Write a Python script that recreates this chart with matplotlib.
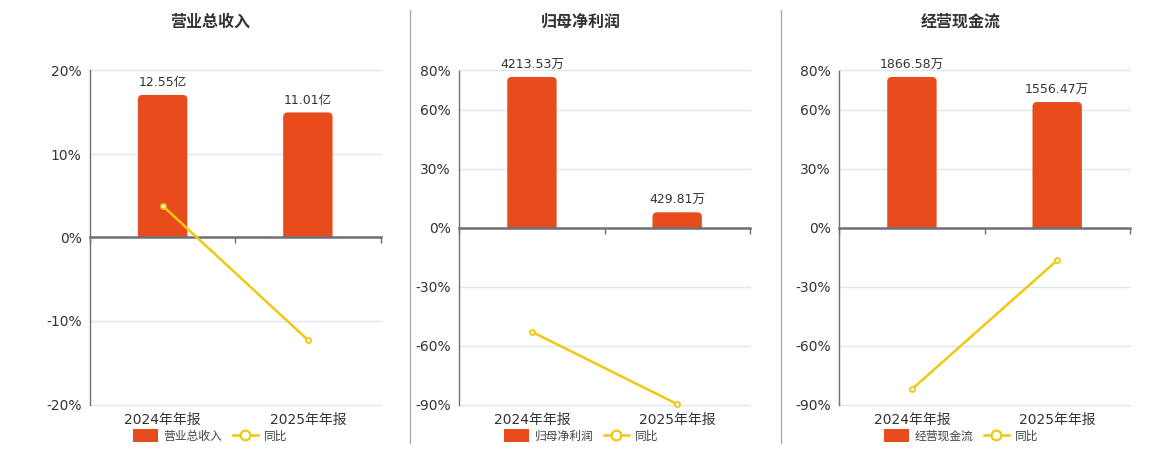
import matplotlib
matplotlib.use("Agg")
import matplotlib.pyplot as plt
from matplotlib.lines import Line2D
from matplotlib.patches import Patch, FancyBboxPatch, Rectangle
from matplotlib.transforms import blended_transform_factory

plt.rcParams['font.family'] = ['DejaVu Sans', 'Noto Sans CJK SC']

categories = ['2024年年报', '2025年年报']

titles = ['营业总收入', '归母净利润', '经营现金流']
bar_values = [[12.55, 11.01], [4213.53, 429.81], [1866.58, 1556.47]]
bar_labels = [['12.55亿', '11.01亿'], ['4213.53万', '429.81万'], ['1866.58万', '1556.47万']]
yoy_values = [[3.8, -12.27], [-53.0, -89.8], [-82.2, -16.6]]
pct_limits = [(-20, 20), (-90, 80), (-90, 80)]
pct_ticks = [[-20, -10, 0, 10, 20], [-90, -60, -30, 0, 30, 60, 80], [-90, -60, -30, 0, 30, 60, 80]]
bar_axis_top = [14.70, 4395.0, 1947.0]

BAR_COLOR = '#E84C1D'
LINE_COLOR = '#F2C80F'
AXIS_COLOR = '#6E7079'
GRID_COLOR = '#E0E6F1'
TEXT_COLOR = '#333333'

W, H = 1160, 450
fig = plt.figure(figsize=(11.6, 4.5), dpi=100)

panel_lefts = [90, 459.3, 839.3]
panel_width = 290.5
panel_top, panel_bottom = 70.5, 404.5
section_centers = [210, 581, 961]
radius_px = 4.5

for i in range(3):
    rect = [panel_lefts[i] / W, 1 - panel_bottom / H, panel_width / W, (panel_bottom - panel_top) / H]
    ax_bar = fig.add_axes(rect)
    ax = ax_bar.twinx()

    lo, hi = pct_limits[i]
    f = bar_axis_top[i] / hi
    x = list(range(len(categories)))
    n = len(categories)

    # bar axis (bottom layer): grid + bars
    ax_bar.set_xlim(-0.5, n - 0.5)
    ax_bar.set_ylim(lo * f, hi * f)
    ax_bar.set_yticks([t * f for t in pct_ticks[i]])
    ax_bar.yaxis.grid(True, color=GRID_COLOR, linewidth=1)
    for gl in ax_bar.get_ygridlines():
        gl.set_clip_on(False)
    ax_bar.set_axisbelow(True)
    ax_bar.tick_params(axis='y', length=0, labelleft=False, labelright=False)
    for s in ax_bar.spines.values():
        s.set_visible(False)
    bars = ax_bar.bar(x, bar_values[i], width=0.34, color=BAR_COLOR, zorder=2)

    # rounded tops: replace each bar rectangle by a rounded box clipped at zero
    x_per_px = n / panel_width
    y_per_px = (hi - lo) * f / (panel_bottom - panel_top)
    r = radius_px * x_per_px
    aspect = y_per_px / x_per_px
    clip = Rectangle((-0.5, 0), n, hi * f * 2, transform=ax_bar.transData)
    for b in bars:
        b.set_visible(False)
        ext = radius_px * y_per_px
        fb = FancyBboxPatch((b.get_x(), -ext), b.get_width(), b.get_height() + ext,
                            boxstyle=f'round,pad=0,rounding_size={r}', mutation_aspect=aspect,
                            facecolor=BAR_COLOR, edgecolor='none', zorder=2)
        ax_bar.add_patch(fb)
        fb.set_clip_path(clip)
    for b, lab in zip(bars, bar_labels[i]):
        ax_bar.annotate(lab, (b.get_x() + b.get_width() / 2, b.get_height()),
                        xytext=(0, 4), textcoords='offset points', ha='center', va='bottom',
                        fontsize=9, color=TEXT_COLOR)

    # percentage axis (top layer): spines, ticks, line
    ax.patch.set_visible(False)
    ax.xaxis.set_visible(True)
    ax.set_ylim(lo, hi)
    ax.set_yticks(pct_ticks[i])
    ax.set_yticklabels([f'{t}%' for t in pct_ticks[i]])
    ax.yaxis.set_ticks_position('left')
    ax.yaxis.set_label_position('left')
    ax.tick_params(axis='y', length=0, pad=6, labelsize=10, labelcolor=TEXT_COLOR)
    ax.spines['right'].set_visible(False)
    ax.spines['top'].set_visible(False)
    ax.spines['left'].set_color(AXIS_COLOR)
    ax.spines['left'].set_linewidth(1)
    ax.spines['bottom'].set_position(('data', 0))
    ax.spines['bottom'].set_color(AXIS_COLOR)
    ax.spines['bottom'].set_linewidth(1.8)
    ax.set_xlim(-0.5, n - 0.5)
    ax.set_xticks([k - 0.5 for k in range(n + 1)])
    ax.xaxis.set_ticks_position('bottom')
    ax.tick_params(axis='x', direction='out', length=4, width=1, color=AXIS_COLOR,
                   labelbottom=False, labeltop=False)
    ax_bar.tick_params(axis='x', length=0, labelbottom=False, labeltop=False)
    ax.plot(x, yoy_values[i], color=LINE_COLOR, linewidth=1.8, marker='o', markersize=3.6,
            markerfacecolor='white', markeredgecolor=LINE_COLOR, markeredgewidth=1.3,
            zorder=5, clip_on=False)

    trans = blended_transform_factory(ax.transData, ax.transAxes)
    for k, c in enumerate(categories):
        ax.text(k, -0.045, c, transform=trans, ha='center', va='center', fontsize=10, color=TEXT_COLOR)

    fig.text(section_centers[i] / W, 1 - 22 / H, titles[i], ha='center', va='center',
             fontsize=11.5, fontweight='bold', color=TEXT_COLOR)

    handles = [Patch(facecolor=BAR_COLOR, edgecolor='none', label=titles[i]),
               Line2D([0], [0], color=LINE_COLOR, linewidth=1.8, marker='o', markersize=7,
                      markerfacecolor='white', markeredgecolor=LINE_COLOR, markeredgewidth=1.6,
                      label='同比')]
    fig.legend(handles=handles, loc='center', bbox_to_anchor=(section_centers[i] / W, 1 - 436 / H),
               ncol=2, frameon=False, fontsize=8.5, handlelength=2.1, handleheight=1.3,
               handletextpad=0.5, columnspacing=0.9, labelcolor='#444444')

for xs in [410.3, 780.7]:
    fig.add_artist(Line2D([xs / W, xs / W], [1 - 10 / H, 1 - 443 / H], color='#AAAAAA',
                          linewidth=1, transform=fig.transFigure))

fig.savefig('out.png', dpi=100, facecolor='white')
